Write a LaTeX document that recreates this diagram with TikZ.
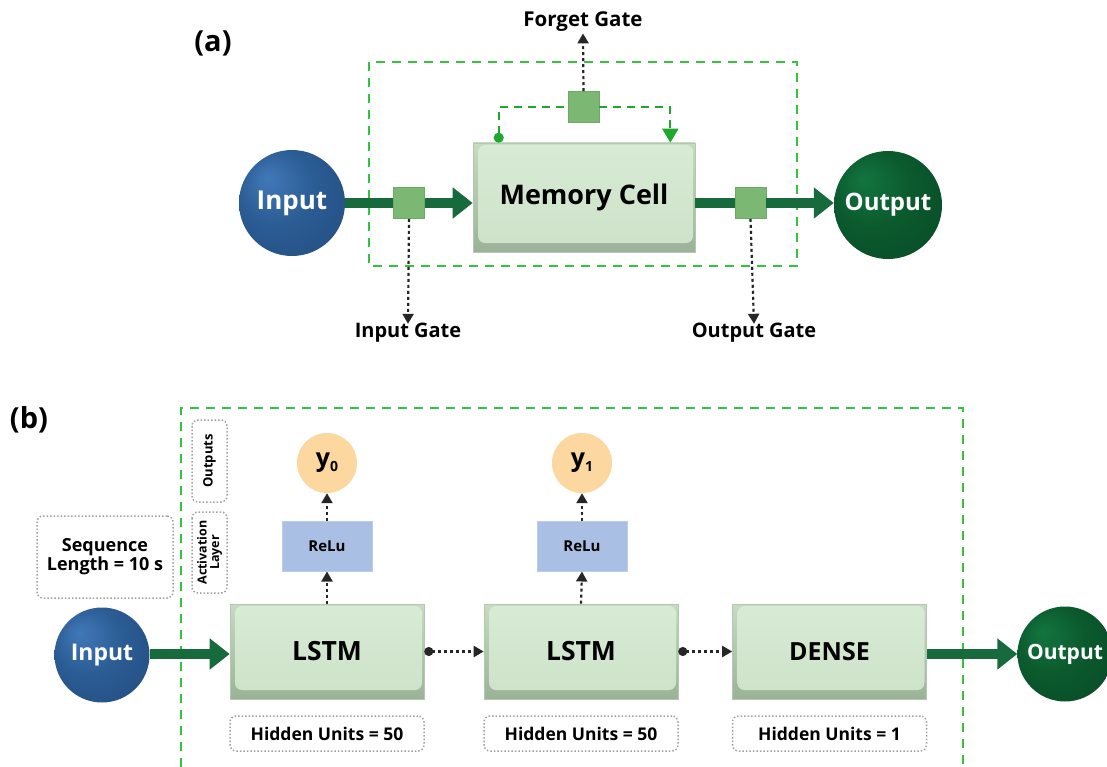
\documentclass[tikz,border=0pt]{standalone}
\usepackage{fontspec}
\setmainfont{Open Sans}
\usetikzlibrary{arrows.meta}
\definecolor{inL}{HTML}{4079B8}
\definecolor{inM}{HTML}{2B5C94}
\definecolor{inD}{HTML}{132F55}
\definecolor{outL}{HTML}{137540}
\definecolor{outM}{HTML}{0B5A2E}
\definecolor{outD}{HTML}{042A15}
\definecolor{arrowgreen}{HTML}{176A3B}
\definecolor{gatesq}{HTML}{7AB873}
\definecolor{gateedge}{HTML}{6DAA68}
\definecolor{dashgreen}{HTML}{33C43F}
\definecolor{loopgreen}{HTML}{1FA830}
\definecolor{faceA}{HTML}{D8EBD5}
\definecolor{faceB}{HTML}{CDE2C9}
\definecolor{bevA}{HTML}{C6DBC2}
\definecolor{bevB}{HTML}{9AB396}
\definecolor{celledge}{HTML}{B4C8B1}
\definecolor{relufill}{HTML}{A9BFE4}
\definecolor{reluedge}{HTML}{BACDF0}
\definecolor{yorange}{HTML}{FCD8A0}
\definecolor{dotgray}{HTML}{A0A0A0}
\definecolor{darkdot}{HTML}{262626}
\pgfdeclareradialshading{inball}{\pgfpoint{-12bp}{12bp}}{color(0bp)=(inL); color(18bp)=(inM); color(38bp)=(inM!70!inD); color(50bp)=(inD)}
\pgfdeclareradialshading{outball}{\pgfpoint{-12bp}{12bp}}{color(0bp)=(outL); color(18bp)=(outM); color(38bp)=(outM!70!outD); color(50bp)=(outD)}
\newcommand\fsz[2]{\fontsize{#1pt}{#2pt}\selectfont\bfseries}
\begin{document}
\begin{tikzpicture}[x=1pt,y=-1pt,
  greendash/.style={draw=dashgreen,line width=2.2pt,dash pattern=on 9pt off 7pt},
  loopline/.style={draw=loopgreen,line width=2pt,dash pattern=on 8pt off 6pt},
  ballnode/.style={circle,inner sep=0pt,text=white},
  inballnode/.style={ballnode,shading=inball},
  outballnode/.style={ballnode,shading=outball},
  cellbox/.style={rectangle,draw=celledge,line width=0.6pt,top color=bevA,bottom color=bevB,inner sep=0pt,
    path picture={\shade[top color=faceA,bottom color=faceB,rounded corners=7pt]
      ([xshift=5pt,yshift=-2pt]path picture bounding box.north west) rectangle
      ([xshift=-2pt,yshift=9pt]path picture bounding box.south east);}},
  gatebox/.style={rectangle,fill=gatesq,draw=gateedge,line width=0.6pt,minimum size=31pt,inner sep=0pt},
  thickarrow/.style={draw=arrowgreen,line width=10pt,-{Triangle[length=20pt,width=30pt]}},
  thickline/.style={draw=arrowgreen,line width=10pt},
  dotarrow/.style={draw=darkdot,line width=2.2pt,dash pattern=on 3pt off 3pt,-{Triangle[length=10pt,width=11pt]}},
  dotdotarrow/.style={draw=darkdot,line width=2.2pt,dash pattern=on 3pt off 3pt,{Circle[length=9pt]}-{Triangle[length=10pt,width=11pt]}},
  graybox/.style={rectangle,draw=dotgray,line width=1.5pt,dotted,rounded corners=6pt,inner sep=0pt},
  relubox/.style={rectangle,fill=relufill,draw=reluedge,line width=1pt,minimum width=90pt,minimum height=50pt,inner sep=0pt},
  ynode/.style={circle,fill=yorange,minimum size=60pt,inner sep=0pt},
  lstmbox/.style={cellbox,minimum width=194pt,minimum height=95pt},
  hidbox/.style={graybox,minimum width=194pt,minimum height=35pt}
]
\useasboundingbox (0,0) rectangle (1107,767);
\fill[white] (0,0) rectangle (1107,767);

% ---------- (a) ----------
\draw[greendash] (369,62) rectangle (797,266);
\node[font=\fsz{29}{33}] (lbla) at (213,43) {(a)};
\node[inballnode,minimum size=106pt,font=\fsz{26}{30}] (ain) at (292,203) {Input};
\node[outballnode,minimum size=108pt,font=\fsz{24}{28}] (aout) at (888,205) {Output};
\node[cellbox,minimum width=222pt,minimum height=109pt,font=\fsz{27}{31}] (mem) at (584,197.5) {Memory Cell};
\node[gatebox] (gin) at (409,203) {};
\node[gatebox] (gout) at (750.5,203) {};
\node[gatebox] (gfg) at (583.5,107) {};
\node[font=\fsz{20.5}{24}] (lblfg) at (583,22) {Forget Gate};
\node[font=\fsz{20}{24}] (lblig) at (408,333) {Input Gate};
\node[font=\fsz{20}{24}] (lblog) at (754,333) {Output Gate};

\draw[thickline] (ain.east |- gin.west) -- (gin.west);
\draw[thickarrow] (gin.east) -- (gin.east -| mem.west);
\draw[thickline] (mem.east |- gout.west) -- (gout.west);
\draw[thickarrow] (gout.east) -- (gout.east -| aout.west);

\coordinate (fl) at ([xshift=26pt]mem.north west);
\coordinate (fr) at ([xshift=-25pt]mem.north east);
\draw[loopline,{Circle[length=10pt,fill=loopgreen]}-] (fl) |- (gfg.west);
\draw[loopline,-{Triangle[length=14pt,width=16pt,fill=loopgreen]}] (gfg.east) -| (fr);

\draw[dotarrow] (gfg.north) -- ([yshift=2pt]lblfg.south);
\draw[dotarrow] (gin.south) -- ([yshift=-4pt]lblig.north);
\draw[dotarrow] (gout.south) -- ([yshift=-4pt]lblog.north);

% ---------- (b) ----------
\draw[greendash] (181,767) -- (181,408) -- (963,408) -- (963,767);
\node[font=\fsz{29}{33}] (lblb) at (29,420) {(b)};
\node[graybox,minimum width=136pt,minimum height=82pt,align=center,font=\fsz{18}{19}] (seq) at (105,557) {Sequence\\Length = 10 s};
\node[graybox,rotate=90,minimum width=82pt,minimum height=35pt,font=\fsz{13}{14}] (outs) at (209.5,461) {Outputs};
\node[graybox,rotate=90,minimum width=81pt,minimum height=35pt,align=center,font=\fsz{12.5}{12.5}] (act) at (209.5,552.5) {Activation\\Layer};

\node[inballnode,minimum size=95pt,font=\fsz{23}{27}] (bin) at (102,655) {Input};
\node[outballnode,minimum size=95pt,font=\fsz{21}{25}] (bout) at (1065,654) {Output};

\node[lstmbox,font=\fsz{26.5}{30}] (l1) at (327,651.5) {LSTM};
\node[lstmbox,font=\fsz{26.5}{30}] (l2) at (581,651.5) {LSTM};
\node[lstmbox,font=\fsz{25}{29}] (dn) at (829.5,651.5) {DENSE};

\node[hidbox,font=\fsz{17.5}{20}] (h1) at (327,733.5) {Hidden Units = 50};
\node[hidbox,font=\fsz{17.5}{20}] (h2) at (581,733.5) {Hidden Units = 50};
\node[hidbox,font=\fsz{17.5}{20}] (h3) at (829.5,733.5) {Hidden Units = 1};

\node[relubox,font=\fsz{15}{17}] (r1) at (327,546) {ReLu};
\node[relubox,font=\fsz{15}{17}] (r2) at (582,546) {ReLu};
\node[ynode,font=\fsz{25}{29}] (y0) at (327,463) {y\raisebox{-0.35ex}{\fsz{14}{16}0}};
\node[ynode,font=\fsz{25}{29}] (y1) at (582,463) {y\raisebox{-0.35ex}{\fsz{14}{16}1}};

\draw[thickarrow] (bin.east |- 0,654) -- (l1.west |- 0,654);
\draw[thickarrow] (dn.east |- 0,654) -- (bout.west |- 0,654);
\draw[dotdotarrow] (l1.east) -- (l2.west);
\draw[dotdotarrow] (l2.east) -- (dn.west);
\draw[dotarrow] (l1.north) -- (r1.south);
\draw[dotarrow] (r1.north) -- (y0.south);
\draw[dotarrow] (l2.north) -- (r2.south);
\draw[dotarrow] (r2.north) -- (y1.south);
\end{tikzpicture}
\end{document}
